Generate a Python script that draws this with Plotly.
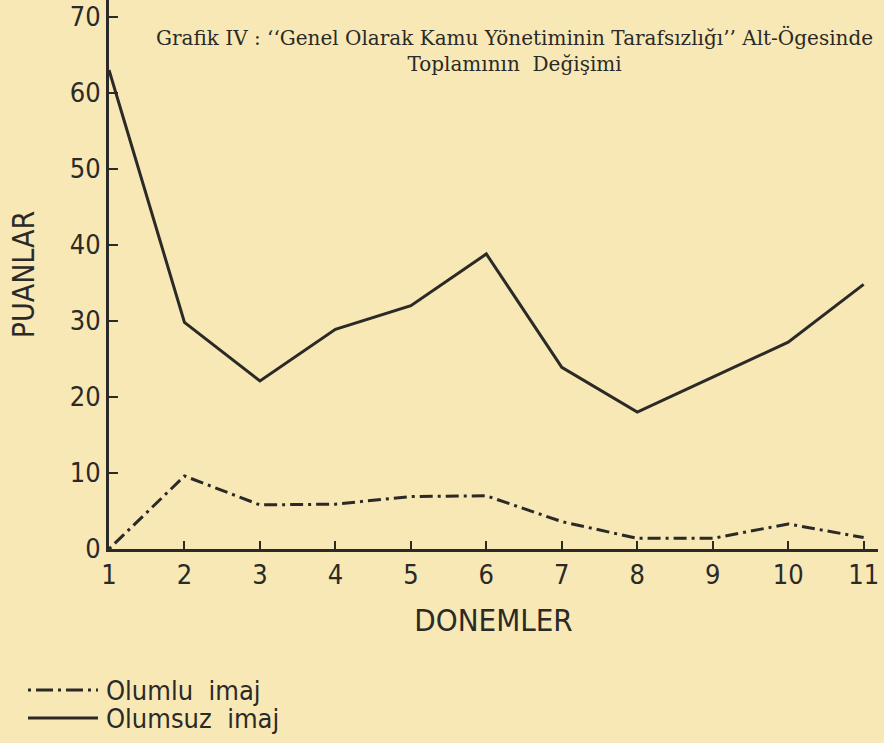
import plotly.graph_objects as go

donemler = [1, 2, 3, 4, 5, 6, 7, 8, 9, 10, 11]
olumlu = [0, 9.6, 5.8, 5.9, 6.9, 7.0, 3.6, 1.4, 1.4, 3.3, 1.5]
olumsuz = [63, 29.8, 22.1, 28.9, 32.0, 38.8, 23.9, 18.0, 22.6, 27.2, 34.8]
y_ticks = [0, 10, 20, 30, 40, 50, 60, 70]
x_ticks = donemler

ink = "#2b2a26"
paper = "#f7e8b6"
sans = "DejaVu Sans Condensed, DejaVu Sans, sans-serif"
serif = "DejaVu Serif, serif"

fig = go.Figure()
fig.add_trace(go.Scatter(x=donemler, y=olumlu, mode="lines", name="Olumlu imaj",
                         line=dict(color=ink, width=3, dash="3px,5px,13px,5px"),
                         showlegend=False))
fig.add_trace(go.Scatter(x=donemler, y=olumsuz, mode="lines", name="Olumsuz imaj",
                         line=dict(color=ink, width=3), showlegend=False))

fig.update_layout(
    width=884, height=743,
    margin=dict(l=109, r=6, t=0, b=194),
    paper_bgcolor=paper, plot_bgcolor=paper,
    font=dict(family=sans, color=ink),
    xaxis=dict(range=[1, 11.19], tickvals=x_ticks, ticktext=[str(v) for v in x_ticks],
               ticks="inside", ticklen=8, tickwidth=2, tickcolor=ink,
               showline=True, linecolor=ink, linewidth=3, showgrid=False, zeroline=False,
               tickfont=dict(family=sans, size=27, color=ink),
               title=dict(text="DONEMLER", font=dict(family=sans, size=31, color=ink), standoff=20)),
    yaxis=dict(range=[0, 72.2], tickvals=y_ticks, ticktext=[str(v) for v in y_ticks],
               ticks="inside", ticklen=9, tickwidth=2, tickcolor=ink,
               showline=True, linecolor=ink, linewidth=3, showgrid=False, zeroline=False,
               tickfont=dict(family=sans, size=27, color=ink),
               title=dict(text="PUANLAR", font=dict(family=sans, size=30, color=ink), standoff=27)),
)

def px_x(p):
    return (p - 109) / 769

def px_y(p):
    return (549 - p) / 549

fig.add_annotation(xref="paper", yref="paper", x=px_x(514), y=px_y(51),
                   text="Grafik IV : ‘‘Genel Olarak Kamu Yönetiminin Tarafsızlığı’’ Alt-Ögesinde<br>Toplamının  Değişimi",
                   showarrow=False, font=dict(family=serif, size=20, color=ink), align="center",
                   xanchor="center", yanchor="middle")

# legend
fig.add_shape(type="line", xref="paper", yref="paper", x0=px_x(28), x1=px_x(98), y0=px_y(690), y1=px_y(690),
              line=dict(color=ink, width=3, dash="3px,5px,17px,5px"))
fig.add_shape(type="line", xref="paper", yref="paper", x0=px_x(28), x1=px_x(98), y0=px_y(718), y1=px_y(718),
              line=dict(color=ink, width=3))
fig.add_annotation(xref="paper", yref="paper", x=px_x(104), y=px_y(690), text="Olumlu  imaj",
                   showarrow=False, xanchor="left", yanchor="middle",
                   font=dict(family=sans, size=27, color=ink))
fig.add_annotation(xref="paper", yref="paper", x=px_x(104), y=px_y(718), text="Olumsuz  imaj",
                   showarrow=False, xanchor="left", yanchor="middle",
                   font=dict(family=sans, size=27, color=ink))

fig.write_html("out.html", config={"displayModeBar": False},
               post_script="document.body.style.margin='0';document.body.style.background='%s';" % paper)
